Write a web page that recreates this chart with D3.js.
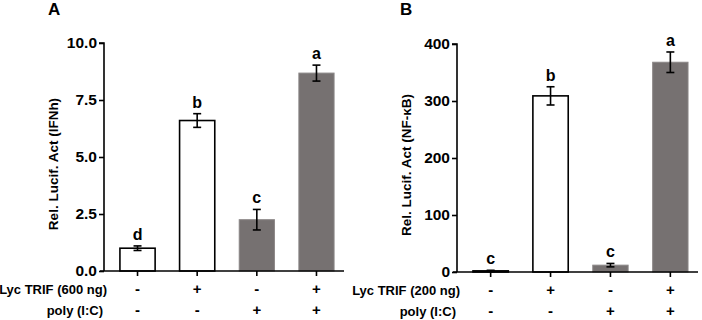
<!DOCTYPE html>
<html>
<head>
<meta charset="utf-8">
<script src="https://cdn.jsdelivr.net/npm/d3@7"></script>
<style>
  body { margin: 0; background: #fff; }
  svg { font-family: "Liberation Sans", Arial, sans-serif; font-weight: bold; }
</style>
</head>
<body>
<div id="chart"></div>
<script>
// Data
const groups = ["g1", "g2", "g3", "g4"];
const trifRow = ["-", "+", "-", "+"];
const polyRow = ["-", "-", "+", "+"];
const barFill = ["white", "white", "gray", "gray"];

const ifnValues = [1.0, 6.6, 2.25, 8.68];
const ifnErrors = [0.1, 0.3, 0.45, 0.35];
const ifnLetters = ["d", "b", "c", "a"];
const ifnTicks = [0, 2.5, 5, 7.5, 10];

const nfkbValues = [2, 309, 12, 368];
const nfkbErrors = [1, 16, 3, 18];
const nfkbLetters = ["c", "b", "c", "a"];
const nfkbTicks = [0, 100, 200, 300, 400];

const GRAY = "#767171";

const svg = d3.select("#chart").append("svg")
    .attr("width", 702)
    .attr("height", 320);

function drawPanel(opts) {
    const { left, right, top, bottom, values, errors, letters, ticks, yMax, tickFmt,
            panelLabel, panelX, yTitle, titleX, row1Label } = opts;

    const g = svg.append("g");

    const y = d3.scaleLinear().domain([0, yMax]).range([bottom, top]);
    const x = d3.scaleBand().domain(groups).range([left + 4, right + 2]).paddingInner(0.41).paddingOuter(0.2);

    // Bars
    g.selectAll(".bar")
        .data(groups)
        .enter()
        .append("rect")
        .attr("x", d => x(d))
        .attr("y", (d, i) => y(values[i]))
        .attr("width", x.bandwidth())
        .attr("height", (d, i) => bottom - y(values[i]))
        .attr("fill", (d, i) => barFill[i] === "white" ? "white" : GRAY)
        .attr("stroke", (d, i) => barFill[i] === "white" ? "black" : "#8a8686")
        .attr("stroke-width", (d, i) => barFill[i] === "white" ? 1.6 : 1);

    // Error bars
    groups.forEach((d, i) => {
        const cx = x(d) + x.bandwidth() / 2;
        const y1 = y(values[i] + errors[i]);
        const y2 = y(values[i] - errors[i]);
        g.append("line").attr("x1", cx).attr("x2", cx).attr("y1", y1).attr("y2", y2)
            .attr("stroke", "black").attr("stroke-width", 1.6);
        [y1, y2].forEach(yy => {
            g.append("line").attr("x1", cx - 4).attr("x2", cx + 4).attr("y1", yy).attr("y2", yy)
                .attr("stroke", "black").attr("stroke-width", 1.6);
        });
        // Significance letters
        g.append("text")
            .attr("x", cx)
            .attr("y", y1 - 6)
            .attr("text-anchor", "middle")
            .style("font-size", "16px")
            .text(letters[i]);
    });

    // Y axis
    const yAxis = d3.axisLeft(y).tickValues(ticks).tickFormat(tickFmt).tickSize(5).tickPadding(2);
    const ya = g.append("g").attr("transform", `translate(${left},0)`).call(yAxis);
    ya.select(".domain").attr("stroke-width", 1.6).attr("d", `M-5,${top}H0V${bottom}`);
    ya.selectAll(".tick line").attr("stroke-width", 1.6);
    ya.selectAll("text").style("font-size", "15.5px").style("font-weight", "bold")
        .style("font-family", "'Liberation Sans', Arial, sans-serif").attr("fill", "black");

    // X axis line
    g.append("line").attr("x1", left - 4).attr("x2", right).attr("y1", bottom).attr("y2", bottom)
        .attr("stroke", "black").attr("stroke-width", 1.6);
    groups.forEach(d => {
        const cx = x(d) + x.bandwidth() / 2;
        g.append("line").attr("x1", cx).attr("x2", cx).attr("y1", bottom).attr("y2", bottom + 5)
            .attr("stroke", "black").attr("stroke-width", 1.6);
    });

    // Treatment rows
    const rowY = [bottom + 23, bottom + 44];
    [[row1Label, trifRow], ["poly (I:C)", polyRow]].forEach(([label, signs], r) => {
        g.append("text")
            .attr("x", left + (r === 0 ? 3 : -1))
            .attr("y", rowY[r])
            .attr("text-anchor", "end")
            .style("font-size", "13px")
            .text(label);
        groups.forEach((d, i) => {
            g.append("text")
                .attr("x", x(d) + x.bandwidth() / 2)
                .attr("y", rowY[r])
                .attr("text-anchor", "middle")
                .style("font-size", "15px")
                .text(signs[i]);
        });
    });

    // Y title
    g.append("text")
        .attr("transform", `translate(${titleX},${(top + bottom) / 2 + 7}) rotate(-90)`)
        .attr("text-anchor", "middle")
        .style("font-size", "13.5px")
        .text(yTitle);

    // Panel label
    g.append("text")
        .attr("x", panelX)
        .attr("y", 15)
        .style("font-size", "17px")
        .text(panelLabel);
}

drawPanel({
    left: 104, right: 344, top: 43, bottom: 271,
    values: ifnValues, errors: ifnErrors, letters: ifnLetters,
    ticks: ifnTicks, yMax: 10, tickFmt: d3.format(".1f"),
    panelLabel: "A", panelX: 48,
    yTitle: "Rel. Lucif. Act (IFNh)", titleX: 58,
    row1Label: "Lyc TRIF (600 ng)"
});

drawPanel({
    left: 457, right: 698, top: 44, bottom: 272,
    values: nfkbValues, errors: nfkbErrors, letters: nfkbLetters,
    ticks: nfkbTicks, yMax: 400, tickFmt: d3.format("d"),
    panelLabel: "B", panelX: 400,
    yTitle: "Rel. Lucif. Act (NF-\u03BAB)", titleX: 411,
    row1Label: "Lyc TRIF (200 ng)"
});
</script>
</body>
</html>
